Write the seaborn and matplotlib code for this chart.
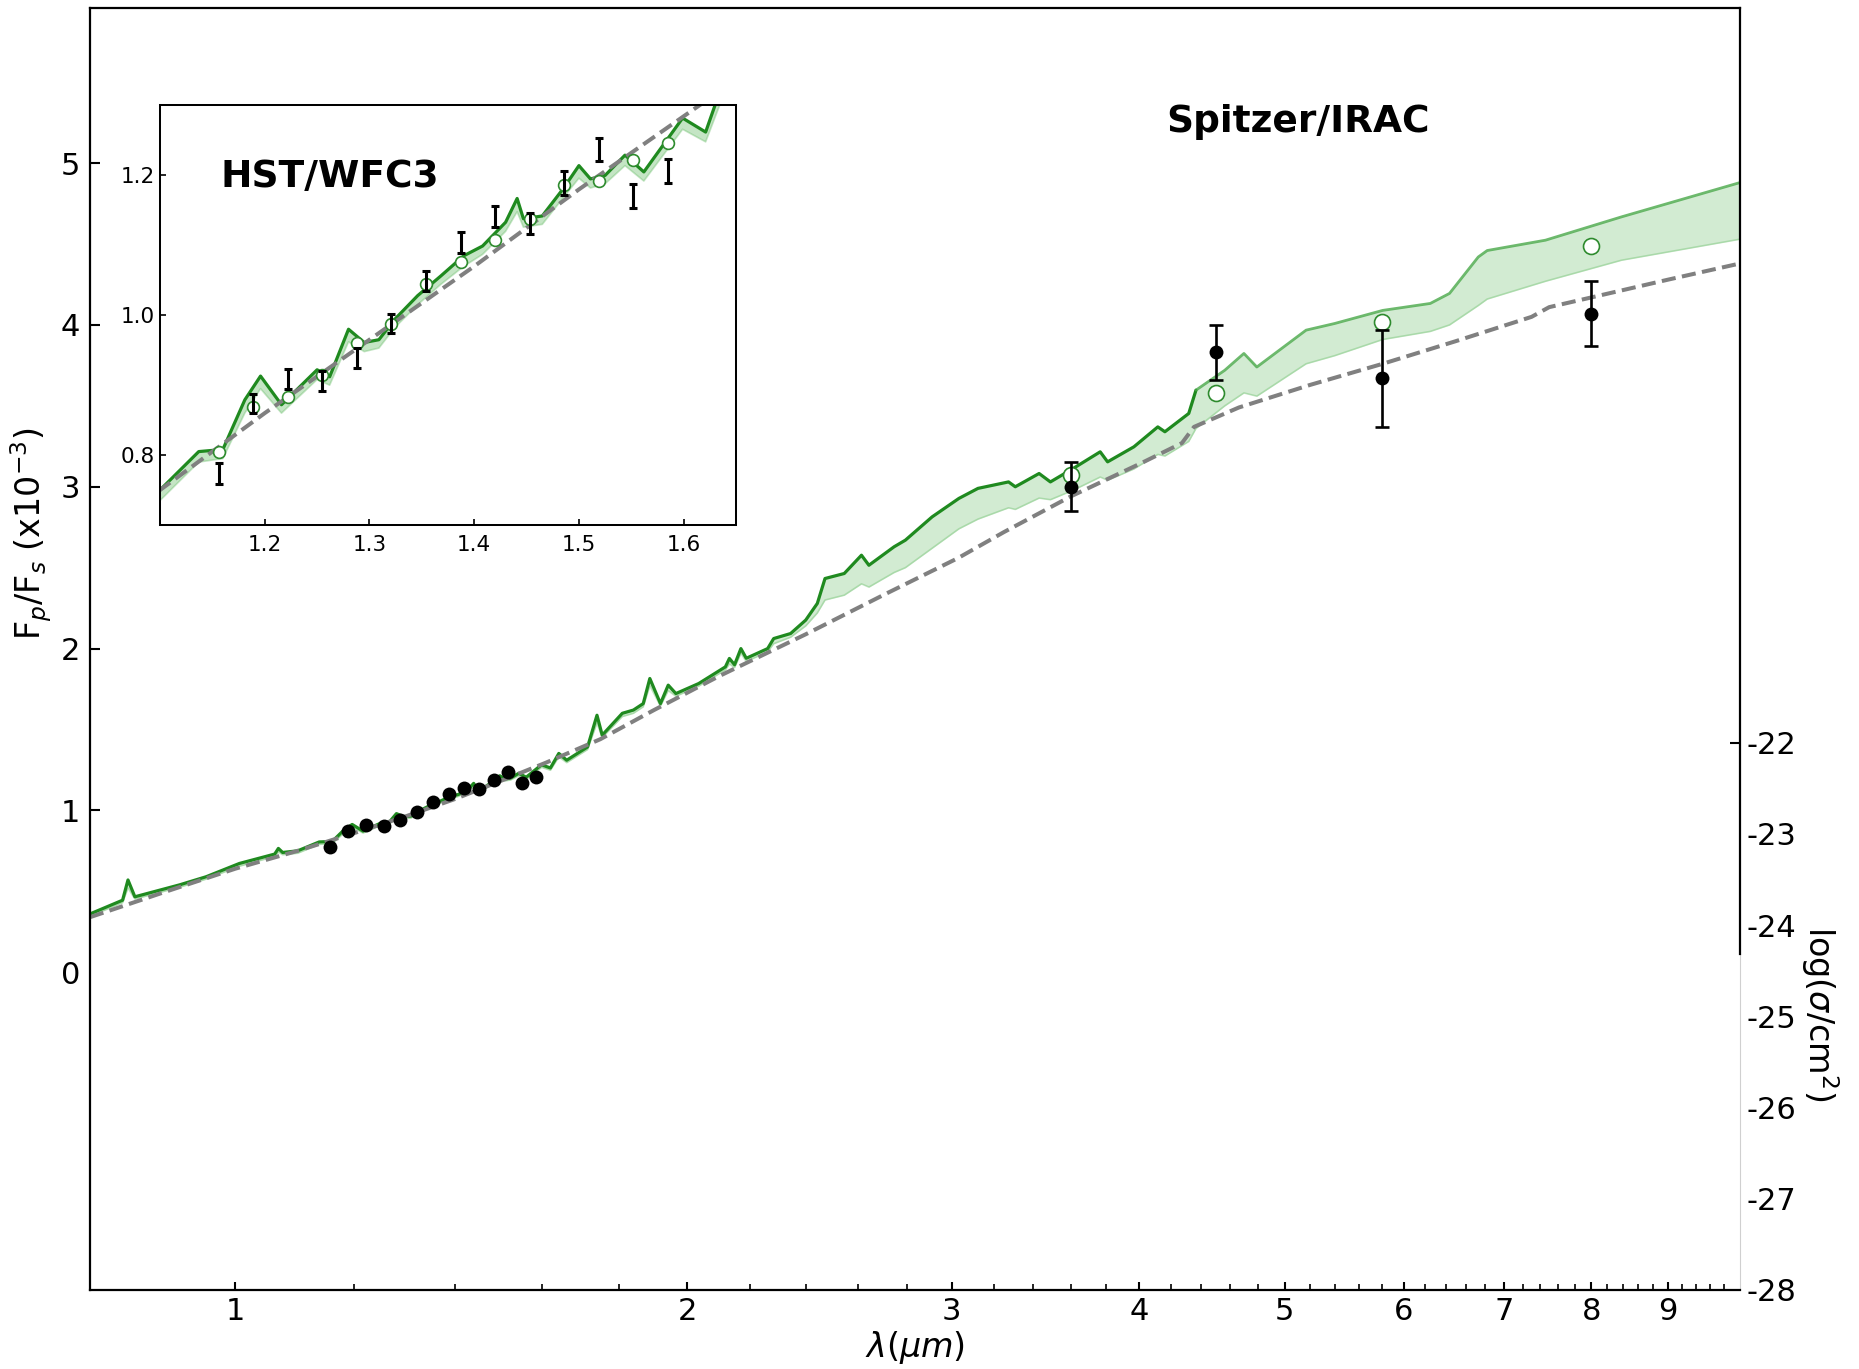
import numpy as np
import matplotlib
matplotlib.use("Agg")
import matplotlib.pyplot as plt
from matplotlib.patches import Rectangle
from matplotlib.ticker import FixedLocator, FixedFormatter, NullFormatter
import seaborn as sns

sns.set_theme(style="ticks", rc={
    "axes.edgecolor": "black", "xtick.color": "black", "ytick.color": "black",
    "text.color": "black", "axes.labelcolor": "black",
})
plt.rcParams["font.family"] = ["DejaVu Sans"]
plt.rcParams["mathtext.fontset"] = "dejavusans"
plt.rcParams["axes.unicode_minus"] = False

# ---------------- model spectrum (Fp/Fs, x1e-3) ----------------
lam_model = [0.800, 0.841, 0.848, 0.857, 0.918, 0.956, 1.006, 1.062, 1.068, 1.075,
             1.100, 1.137, 1.160, 1.181, 1.196, 1.216, 1.250, 1.262, 1.280, 1.295,
             1.309, 1.324, 1.346, 1.368, 1.390, 1.408, 1.430, 1.441, 1.447, 1.465,
             1.485, 1.500, 1.511, 1.525, 1.544, 1.562, 1.599, 1.621, 1.642, 1.662,
             1.716, 1.741, 1.755, 1.810, 1.841, 1.869, 1.888, 1.919, 1.942, 1.965,
             2.035, 2.120, 2.133, 2.150, 2.171, 2.189, 2.262, 2.283, 2.343, 2.398,
             2.441, 2.470, 2.544, 2.612, 2.642, 2.746, 2.794, 2.911, 3.033, 3.123,
             3.273, 3.307, 3.430, 3.490, 3.617, 3.767, 3.810, 3.967, 4.115, 4.160,
             4.315, 4.363, 4.560, 4.696, 4.790, 5.166, 5.397, 5.810, 6.250, 6.437,
             6.727, 6.820, 7.458, 8.380, 10.05]
fp_best = [0.360, 0.445, 0.570, 0.466, 0.540, 0.590, 0.672, 0.730, 0.765, 0.740,
           0.750, 0.805, 0.808, 0.879, 0.913, 0.872, 0.922, 0.912, 0.980, 0.961,
           0.965, 0.994, 1.028, 1.056, 1.085, 1.099, 1.133, 1.167, 1.138, 1.142,
           1.181, 1.214, 1.195, 1.200, 1.229, 1.205, 1.282, 1.262, 1.352, 1.310,
           1.392, 1.588, 1.465, 1.600, 1.620, 1.660, 1.815, 1.660, 1.774, 1.722,
           1.784, 1.887, 1.939, 1.900, 2.000, 1.940, 2.000, 2.062, 2.093, 2.176,
           2.279, 2.433, 2.464, 2.577, 2.515, 2.629, 2.670, 2.814, 2.928, 2.990,
           3.030, 3.000, 3.082, 3.030, 3.115, 3.216, 3.154, 3.247, 3.370, 3.340,
           3.453, 3.597, 3.720, 3.824, 3.740, 3.968, 4.009, 4.090, 4.133, 4.195,
           4.420, 4.460, 4.524, 4.668, 4.880]
fp_low = [0.345, 0.430, 0.520, 0.452, 0.525, 0.575, 0.655, 0.715, 0.742, 0.726,
          0.735, 0.790, 0.795, 0.860, 0.895, 0.860, 0.908, 0.900, 0.962, 0.948,
          0.953, 0.982, 1.015, 1.044, 1.070, 1.087, 1.120, 1.148, 1.126, 1.130,
          1.168, 1.196, 1.182, 1.188, 1.214, 1.192, 1.266, 1.248, 1.330, 1.295,
          1.376, 1.540, 1.450, 1.580, 1.600, 1.640, 1.770, 1.645, 1.740, 1.705,
          1.768, 1.868, 1.905, 1.882, 1.970, 1.920, 1.980, 2.030, 2.070, 2.140,
          2.220, 2.300, 2.330, 2.400, 2.380, 2.470, 2.500, 2.620, 2.740, 2.800,
          2.870, 2.860, 2.930, 2.920, 2.980, 3.060, 3.040, 3.110, 3.200, 3.190,
          3.280, 3.360, 3.500, 3.580, 3.560, 3.760, 3.810, 3.910, 3.960, 4.000,
          4.120, 4.160, 4.270, 4.400, 4.530]
# index where the posterior samples fan out (4.36 um feature)
split = 81

# ---------------- blackbody reference ----------------
bb_lam = [0.80, 0.90, 1.00, 1.10, 1.20, 1.30, 1.40, 1.50, 1.61, 1.75, 1.90, 2.10,
          2.40, 2.70, 3.03, 3.25, 3.60, 4.02, 4.27, 4.35, 4.66, 5.20, 5.81, 6.50,
          7.30, 7.50, 8.00, 9.00, 10.05]
bb_fp = [0.34, 0.50, 0.64, 0.75, 0.86, 0.965, 1.07, 1.18, 1.295, 1.44, 1.62, 1.83,
         2.09, 2.33, 2.56, 2.72, 2.94, 3.15, 3.27, 3.37, 3.49, 3.63, 3.76, 3.90,
         4.05, 4.11, 4.17, 4.28, 4.38]

# ---------------- observations ----------------
hst_lam = [1.156, 1.189, 1.222, 1.255, 1.288, 1.321, 1.354, 1.387, 1.420, 1.453,
           1.486, 1.519, 1.552, 1.585]
hst_fp = [0.774, 0.874, 0.909, 0.906, 0.939, 0.988, 1.049, 1.104, 1.141, 1.131,
          1.189, 1.237, 1.171, 1.206]
hst_err = [0.015, 0.014, 0.014, 0.014, 0.014, 0.014, 0.014, 0.015, 0.015, 0.015,
           0.017, 0.016, 0.017, 0.017]
hst_model = [0.805, 0.869, 0.883, 0.914, 0.961, 0.987, 1.044, 1.076, 1.108, 1.138,
             1.187, 1.192, 1.222, 1.247]

irac_lam = [3.6, 4.5, 5.8, 8.0]
irac_fp = [3.00, 3.83, 3.67, 4.07]
irac_err = [0.15, 0.17, 0.30, 0.20]
irac_model = [3.07, 3.58, 4.02, 4.49]

x_major = [1, 2, 3, 4, 5, 6, 7, 8, 9]
x_labels = ["1", "2", "3", "4", "5", "6", "7", "8", "9"]
y_ticks = [0, 1, 2, 3, 4, 5]
sigma_ticks = [-28, -27, -26, -25, -24, -23, -22]

LINE_GREEN = "#1f8a1f"
FAN_GREEN = "#48a848"
BAND_GREEN = "#6cbf6c"
EDGE_GREEN = "#2e8b2e"
BB_GRAY = "#808080"


def draw_spectrum(axis, band_alpha=0.3):
    axis.fill_between(lam_model, fp_low, fp_best, color=BAND_GREEN,
                      alpha=band_alpha, lw=0, zorder=1.4)
    axis.plot(lam_model, fp_low, color=BAND_GREEN, alpha=0.4, lw=1.2, zorder=1.5)
    sns.lineplot(x=lam_model[:split + 1], y=fp_best[:split + 1], ax=axis,
                 color=LINE_GREEN, lw=2.3, sort=False, estimator=None, zorder=1.8)
    sns.lineplot(x=lam_model[split:], y=fp_best[split:], ax=axis,
                 color=FAN_GREEN, lw=2.0, alpha=0.8, sort=False, estimator=None,
                 zorder=1.8)
    sns.lineplot(x=bb_lam, y=bb_fp, ax=axis, color=BB_GRAY, lw=2.9,
                 linestyle=(0, (3.5, 1.6)), sort=False, estimator=None, zorder=2.0)


fig = plt.figure(figsize=(18.59, 13.69), dpi=100)
ax = fig.add_axes([0.04841, 0.05771, 0.88757, 0.93623])
ax.set_axisbelow(False)
ax.set_xscale("log")
draw_spectrum(ax)

# Spitzer photometry
sns.scatterplot(x=irac_lam, y=irac_model, ax=ax, s=11.5 ** 2, color="white",
                edgecolor=EDGE_GREEN, linewidth=1.2, zorder=3.5)
ax.errorbar(irac_lam, irac_fp, yerr=irac_err, fmt="none", ecolor="black",
            elinewidth=1.9, capsize=5, capthick=1.9, zorder=4)
sns.scatterplot(x=irac_lam, y=irac_fp, ax=ax, s=10 ** 2, color="black",
                edgecolor="black", linewidth=0, zorder=5)
# HST spectrum in the main panel
sns.scatterplot(x=hst_lam, y=hst_fp, ax=ax, s=10 ** 2, color="black",
                edgecolor="black", linewidth=0, zorder=5)

ax.set_xlim(0.80, 10.05)
ax.set_ylim(-1.964, 5.957)

# blank lower panel area
ax.add_patch(Rectangle((0, 0), 1, 0.2622, transform=ax.transAxes,
                       facecolor="white", edgecolor="none", zorder=2.4))
ax.spines["right"].set_bounds(0.1125, 5.957)
ax.plot([1, 1], [0, 0.2622], transform=ax.transAxes, color="#d0d0d0", lw=0.8,
        clip_on=False, zorder=2.45)
for sp in ax.spines.values():
    sp.set_linewidth(1.6)

ax.xaxis.set_major_locator(FixedLocator(x_major))
ax.xaxis.set_major_formatter(FixedFormatter(x_labels))
minor = [v for v in np.arange(0.8, 10.01, 0.2) if abs(v - round(v)) > 1e-6]
ax.xaxis.set_minor_locator(FixedLocator(minor))
ax.xaxis.set_minor_formatter(NullFormatter())
ax.set_yticks(y_ticks)
ax.set_yticklabels([str(v) for v in y_ticks])

ax.set_xlabel(r"$\lambda(\mu m)$", fontsize=24, labelpad=2)
ax.set_ylabel(r"F$_p$/F$_s$ (x10$^{-3}$)", fontsize=24)
ax.yaxis.set_label_coords(-0.022, 0.59)

ax.text(0.732, 0.911, "Spitzer/IRAC", transform=ax.transAxes, ha="center",
        va="center", fontsize=27, fontweight="bold")

# cross-section scale on the right
ax2 = ax.twinx()
ax2.set_ylim(-28, -13.95)
ax2.set_yticks(sigma_ticks)
ax2.set_yticklabels([str(v) for v in sigma_ticks])
for sp in ax2.spines.values():
    sp.set_visible(False)
ax2.tick_params(axis="y", direction="in", length=7, width=1.5, labelsize=22, pad=5)
for t, v in zip(ax2.yaxis.get_major_ticks(), sigma_ticks):
    if v != -22:
        t.tick2line.set_visible(False)
fig.text(0.979, 0.2593, r"log($\sigma$/cm$^2$)", rotation=270, ha="center",
         va="center", fontsize=24)

# main-axis tick styling (after twinx, which resets the left ticks)
ax.tick_params(axis="both", which="both", direction="in", top=False, right=False)
ax.tick_params(axis="y", length=7, width=1.5, labelsize=22, pad=7)
ax.tick_params(axis="x", which="major", length=6, width=1.5, labelsize=22, pad=5)
ax.tick_params(axis="x", which="minor", length=4.5, width=1.2)
for t, v in zip(ax.yaxis.get_major_ticks(), y_ticks):
    if v == 0:
        t.tick1line.set_visible(False)

# HST/WFC3 inset
axin = fig.add_axes([0.08607, 0.61651, 0.30985, 0.30643])
axin.set_facecolor("white")
axin.set_axisbelow(False)
draw_spectrum(axin, band_alpha=0.4)
sns.scatterplot(x=hst_lam, y=hst_model, ax=axin, s=8.5 ** 2, color="white",
                edgecolor=EDGE_GREEN, linewidth=1.2, zorder=3.5)
axin.errorbar(hst_lam, hst_fp, yerr=hst_err, fmt="none", ecolor="black",
              elinewidth=2.2, capsize=3.2, capthick=2.2, zorder=4)
axin.set_xlim(1.10, 1.65)
axin.set_ylim(0.70, 1.30)
axin.set_xticks([1.2, 1.3, 1.4, 1.5, 1.6])
axin.set_xticklabels(["1.2", "1.3", "1.4", "1.5", "1.6"])
axin.set_yticks([0.8, 1.0, 1.2])
axin.set_yticklabels(["0.8", "1.0", "1.2"])
axin.tick_params(axis="both", direction="in", length=4, width=1.2, labelsize=15.5)
axin.tick_params(axis="x", pad=7)
axin.tick_params(axis="y", pad=3.5)
axin.set_xlabel("")
axin.set_ylabel("")
for sp in axin.spines.values():
    sp.set_linewidth(1.45)
axin.text(0.1055, 0.83, "HST/WFC3", transform=axin.transAxes, ha="left",
          va="center", fontsize=27, fontweight="bold")

fig.savefig("out.png", dpi=100)
